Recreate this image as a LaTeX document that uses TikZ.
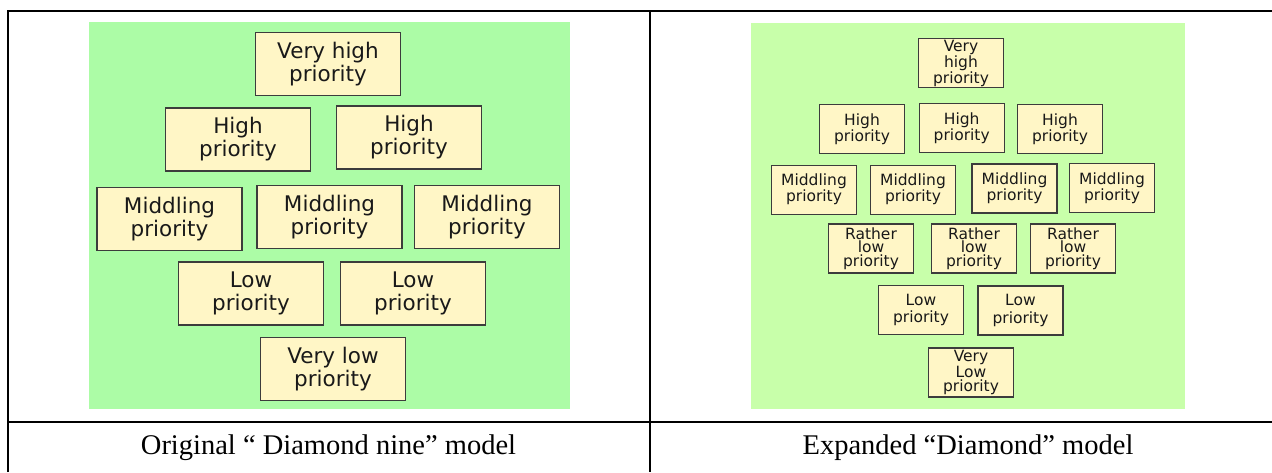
\documentclass[tikz,border=0pt]{standalone}
\usepackage{fontspec}
\setmainfont{Liberation Serif}
\newfontfamily\boxfont{DejaVu Sans}
\definecolor{leftgreen}{RGB}{172,252,166}
\definecolor{rightgreen}{RGB}{200,255,170}
\definecolor{boxfill}{RGB}{255,246,198}
\definecolor{boxedge}{RGB}{60,60,60}
\tikzset{
  card/.style={draw=boxedge, fill=boxfill, inner sep=0pt, align=center, text=black!90},
  bigcard/.style={card, line width=1.1pt, minimum width=145pt, minimum height=63pt,
    font=\boxfont\fontsize{21.5}{23}\selectfont},
  smallcard/.style={card, line width=1.1pt, minimum width=85pt, minimum height=49pt,
    font=\boxfont\fontsize{15.5}{13.6}\selectfont},
  rule/.style={line width=2pt, black},
  caption/.style={font=\fontsize{28.5}{30}\selectfont, inner sep=0pt}
}
\begin{document}
\begin{tikzpicture}[x=1pt, y=-1pt]
  \useasboundingbox (0,0) rectangle (1272,472);
  \fill[white] (0,0) rectangle (1272,472);

  % table rules
  \draw[rule] (8,472) -- (8,11) -- (1272,11);
  \draw[rule] (650,11) -- (650,472);
  \draw[rule] (8,422) -- (1272,422);

  % left panel: diamond nine
  \fill[leftgreen] (89,22) rectangle (570,409);
  \node[bigcard] (lvh) at (328,64)    {Very high\\priority};
  \node[bigcard] (lh1) at (238,139.5) {High\\priority};
  \node[bigcard] (lh2) at (409,137.5) {High\\priority};
  \node[bigcard] (lm1) at (169.5,219) {Middling\\priority};
  \node[bigcard] (lm2) at (329.5,217) {Middling\\priority};
  \node[bigcard] (lm3) at (487,217)   {Middling\\priority};
  \node[bigcard] (ll1) at (251,293.5) {Low\\priority};
  \node[bigcard] (ll2) at (413,293.5) {Low\\priority};
  \node[bigcard] (lvl) at (333,369)   {Very low\\priority};

  % right panel: expanded diamond
  \fill[rightgreen] (751,23) rectangle (1185,409);
  \node[smallcard] (rvh) at (961,63)     {Very\\high\\priority};
  \node[smallcard] (rh1) at (862,129.3)  {High\\priority};
  \node[smallcard] (rh2) at (961.7,128.3){High\\priority};
  \node[smallcard] (rh3) at (1060,128.8) {High\\priority};
  \node[smallcard] (rm1) at (814,189.7)  {Middling\\priority};
  \node[smallcard] (rm2) at (913,189.7)  {Middling\\priority};
  \node[smallcard] (rm3) at (1014.5,188.5){Middling\\priority};
  \node[smallcard] (rm4) at (1112,188)   {Middling\\priority};
  \node[smallcard] (rr1) at (871,248.5)  {Rather\\low\\priority};
  \node[smallcard] (rr2) at (974,248.5)  {Rather\\low\\priority};
  \node[smallcard] (rr3) at (1073,248.5) {Rather\\low\\priority};
  \node[smallcard] (rl1) at (921,310)    {Low\\[4pt]priority};
  \node[smallcard] (rl2) at (1020.5,310.5){Low\\[4pt]priority};
  \node[smallcard] (rvl) at (971,372.5)  {Very\\Low\\priority};

  % captions
  \node[caption] (capl) at (328.5,448) {Original “ Diamond nine” model};
  \node[caption] (capr) at (968,448)   {Expanded “Diamond” model};
\end{tikzpicture}
\end{document}
